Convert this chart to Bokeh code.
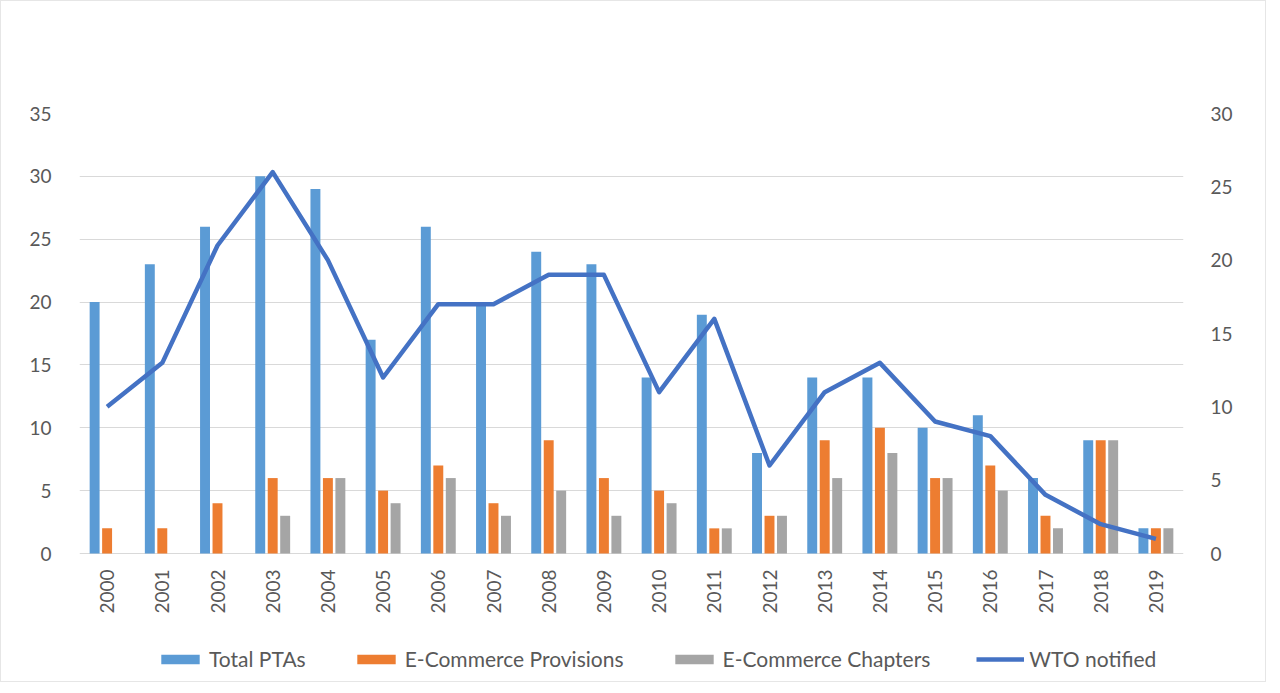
import math
from bokeh.plotting import figure
from bokeh.models import (FactorRange, Range1d, LinearAxis, Legend, LegendItem,
                          ColumnDataSource, FixedTicker)
from bokeh.transform import dodge
from bokeh.core.properties import value
from bokeh.embed import file_html
from bokeh.resources import INLINE

years = [str(y) for y in range(2000, 2020)]
total_ptas = [20, 23, 26, 30, 29, 17, 26, 20, 24, 23, 14, 19, 8, 14, 14, 10, 11, 6, 9, 2]
ecom_provisions = [2, 2, 4, 6, 6, 5, 7, 4, 9, 6, 5, 2, 3, 9, 10, 6, 7, 3, 9, 2]
ecom_chapters = [0, 0, 0, 3, 6, 4, 6, 3, 5, 3, 4, 2, 3, 6, 8, 6, 5, 2, 9, 2]
wto_notified = [10, 13, 21, 26, 20, 12, 17, 17, 19, 19, 11, 16, 6, 11, 13, 9, 8, 4, 2, 1]
left_ticks = [0, 5, 10, 15, 20, 25, 30, 35]
right_ticks = [0, 5, 10, 15, 20, 25, 30]

FONT = "Lato"
TXT = "#595959"
GRID = "#D9D9D9"

# layout: the plot frame extends below zero to hold the year labels and legend
PLOT_H = 440          # pixels from 0 to top of left scale
EXTRA_H = 128         # pixels below zero inside the frame
left_max, right_max = 35, 30
left_min = -EXTRA_H * left_max / PLOT_H
right_min = -EXTRA_H * right_max / PLOT_H

src = ColumnDataSource(dict(year=years, total=total_ptas, prov=ecom_provisions,
                            chap=ecom_chapters, wto=wto_notified,
                            base=[0] * len(years)))

p = figure(x_range=FactorRange(*years), y_range=Range1d(left_min, left_max),
           frame_width=1104, frame_height=PLOT_H + EXTRA_H,
           output_backend="svg", toolbar_location=None, x_axis_location=None,
           min_border_left=78, min_border_right=82, min_border_top=112,
           min_border_bottom=0)
p.outline_line_color = None
p.styles = {"border": "1px solid #E6E6E6"}
p.extra_y_ranges = {"right": Range1d(right_min, right_max)}

bw = 0.18
off = 0.226
r_tot = p.vbar(x=dodge('year', -off, range=p.x_range), top='total', width=bw,
               source=src, fill_color="#5B9BD5", line_color=None)
r_prov = p.vbar(x=dodge('year', 0.0, range=p.x_range), top='prov', width=bw,
                source=src, fill_color="#ED7D31", line_color=None)
r_chap = p.vbar(x=dodge('year', off, range=p.x_range), top='chap', width=bw,
                source=src, fill_color="#A5A5A5", line_color=None)
r_wto = p.line(x='year', y='wto', y_range_name="right", source=src,
               line_color="#4472C4", line_width=4.5, line_join="round")

# year labels under the zero line
p.text(x='year', y='base', text='year', source=src, angle=math.pi / 2,
       text_align="right", text_baseline="middle", y_offset=16,
       text_font=value(FONT), text_font_size=value("19px"), text_color=TXT)

# left axis
ya = p.yaxis[0]
ya.ticker = FixedTicker(ticks=left_ticks)
ya.axis_line_color = None
ya.major_tick_line_color = None
ya.minor_tick_line_color = None
ya.major_label_text_font = FONT
ya.major_label_text_font_size = "19px"
ya.major_label_text_color = TXT
ya.major_label_standoff = 22

ra = LinearAxis(y_range_name="right", ticker=FixedTicker(ticks=right_ticks))
ra.axis_line_color = None
ra.major_tick_line_color = None
ra.minor_tick_line_color = None
ra.major_label_text_font = FONT
ra.major_label_text_font_size = "19px"
ra.major_label_text_color = TXT
ra.major_label_standoff = 21
p.add_layout(ra, "right")

p.xgrid.grid_line_color = None
p.ygrid.grid_line_color = GRID
p.ygrid.ticker = FixedTicker(ticks=left_ticks)

legend = Legend(items=[
    LegendItem(label="Total PTAs", renderers=[r_tot]),
    LegendItem(label="E-Commerce Provisions", renderers=[r_prov]),
    LegendItem(label="E-Commerce Chapters", renderers=[r_chap]),
    LegendItem(label="WTO notified", renderers=[r_wto]),
], orientation="horizontal", location=(77, 10))
legend.border_line_color = None
legend.background_fill_alpha = 0
legend.glyph_width = 48
legend.glyph_height = 12
legend.label_text_font = FONT
legend.label_text_font_size = "21px"
legend.label_text_color = TXT
legend.spacing = 46
legend.label_standoff = 5
legend.margin = 0
legend.padding = 4
p.add_layout(legend, "center")

open("out.html", "w").write(file_html(p, INLINE))
